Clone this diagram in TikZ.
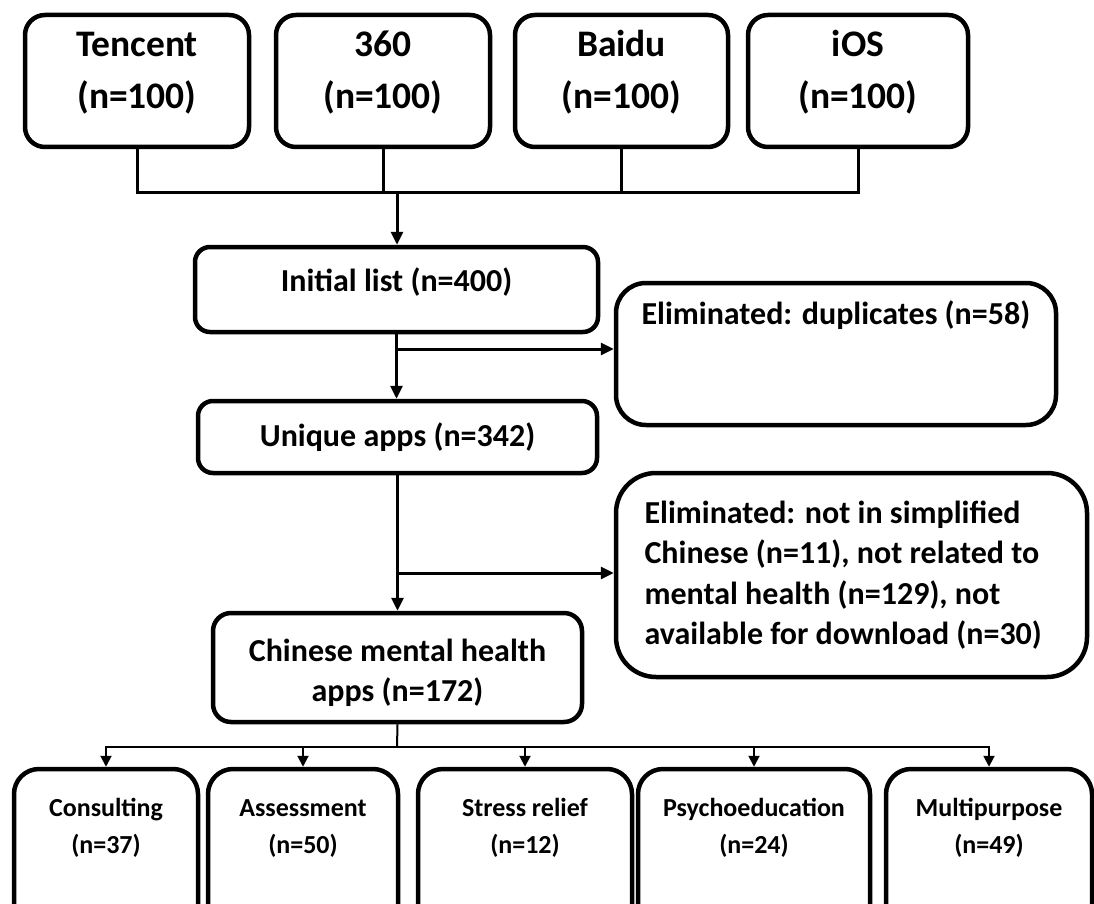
\documentclass[tikz,border=0pt]{standalone}
\usepackage{fontspec}
\setmainfont{Carlito}
\usetikzlibrary{positioning,arrows.meta}
\newcommand{\topstrut}{\vphantom{Tdl}}

\begin{document}
\begin{tikzpicture}[x=1pt,y=-1pt,
  box/.style={draw, line width=4.5pt, rounded corners=#1, inner sep=0pt},
  box/.default=20pt,
  line/.style={line width=3pt},
  arr/.style={line width=3pt, -{Triangle[length=13pt,width=12pt]}},
  thinarr/.style={line width=2pt, -{Triangle[length=11pt,width=11pt]}},
  big/.style={font=\fontsize{37.5}{52}\selectfont\bfseries, align=center, anchor=north},
  mid/.style={font=\fontsize{32}{40.5}\selectfont\bfseries},
  small/.style={font=\fontsize{26}{37}\selectfont\bfseries, align=center, anchor=north}]
  \fill[white] (0,0) rectangle (1094,904);
  \useasboundingbox (0,0) rectangle (1094,904);
  \clip (0,0) rectangle (1094,904);

  \node[box, minimum width=224pt, minimum height=132pt] (tencent) at (137,81) {};
  \node[box, minimum width=214pt, minimum height=132pt] (s360) at (383,81) {};
  \node[box, minimum width=213pt, minimum height=132pt] (baidu) at (621.5,81) {};
  \node[box, minimum width=220pt, minimum height=132pt] (ios) at (858,81) {};
  \node[big] (tencent-txt) at (137,26.5) {\topstrut Tencent\\(n=100)};
  \node[big] (s360-txt) at (383,26.5) {\topstrut 360\\(n=100)};
  \node[big] (baidu-txt) at (621.5,26.5) {\topstrut Baidu\\(n=100)};
  \node[big] (ios-txt) at (858,26.5) {\topstrut iOS\\(n=100)};

  \node[box=15pt, minimum width=403pt, minimum height=85pt] (initial) at (396.5,289.5) {};
  \node[mid] (initial-txt) at (396.5,282) {Initial list (n=400)};
  \node[box=15pt, minimum width=399pt, minimum height=72pt] (unique) at (397.5,437) {};
  \node[mid] (unique-txt) at (397.5,437) {Unique apps (n=342)};
  \node[box=18pt, minimum width=369pt, minimum height=109pt] (cmh) at (397.5,667.5) {};
  \node[mid, align=center] (cmh-txt) at (397.5,673) {Chinese mental health\\apps (n=172)};

  \node[box=30pt, minimum width=440pt, minimum height=142pt] (elimdup) at (836,354) {};
  \node[mid, anchor=west] (elimdup-txt) at (638,315) {Eliminated: duplicates (n=58)};
  \node[box=40pt, minimum width=471pt, minimum height=204pt] (elimother) at (851.5,575) {};
  \node[mid, anchor=west, align=left] (elimother-txt) at (641,575)
    {Eliminated: not in simplified\\Chinese (n=11), not related to\\mental health (n=129), not\\available for download (n=30)};

  \node[box=25pt, minimum width=184pt, minimum height=161pt] (consult) at (106,849.5) {};
  \node[box=25pt, minimum width=190pt, minimum height=161pt] (assess) at (303,849.5) {};
  \node[box=25pt, minimum width=214pt, minimum height=161pt] (stress) at (525,849.5) {};
  \node[box=25pt, minimum width=232pt, minimum height=161pt] (psycho) at (754,849.5) {};
  \node[box=25pt, minimum width=206pt, minimum height=161pt] (multi) at (989,849.5) {};
  \node[small] (consult-txt) at (106,795) {\topstrut Consulting\\(n=37)};
  \node[small] (assess-txt) at (303,795) {\topstrut Assessment\\(n=50)};
  \node[small] (stress-txt) at (525,795) {\topstrut Stress relief\\(n=12)};
  \node[small] (psycho-txt) at (754,795) {\topstrut Psychoeducation\\(n=24)};
  \node[small] (multi-txt) at (989,795) {\topstrut Multipurpose\\(n=49)};

  \coordinate (join) at (397,193);
  \foreach \src in {tencent,s360,baidu,ios}
    \draw[line] (\src.south) |- (join);
  \draw[arr] (join) -- (join |- initial.north);

  \coordinate (fork1) at (397,349);
  \draw[arr] (initial.south) -- (initial.south |- unique.north);
  \draw[arr] (fork1) -- (fork1 -| elimdup.west);
  \coordinate (fork2) at (397,573);
  \draw[arr] (unique.south) -- (unique.south |- cmh.north);
  \draw[arr] (fork2) -- (fork2 -| elimother.west);

  \coordinate (split) at (397,747);
  \draw[line width=2pt] (cmh.south) -- (split);
  \foreach \dst in {consult,assess,stress,psycho,multi}
    \draw[thinarr] (split) -| (\dst.north);
\end{tikzpicture}
\end{document}
